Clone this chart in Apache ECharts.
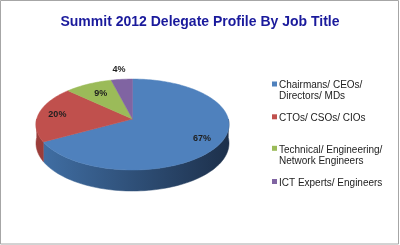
<!DOCTYPE html>
<html><head><meta charset="utf-8">
<script src="https://cdn.jsdelivr.net/npm/echarts@6/dist/echarts.min.js"></script>
<style>html,body{margin:0;padding:0;background:#fff}#c{width:400px;height:245px}</style>
</head><body><div id="c"></div>
<script>
const titleText = 'Summit 2012 Delegate Profile By Job Title';
const categories = ['Chairmans/ CEOs/\nDirectors/ MDs', 'CTOs/ CSOs/ CIOs', 'Technical/ Engineering/\nNetwork Engineers', 'ICT Experts/ Engineers'];
const values = [67, 20, 9, 4];
const colors = ['#4F81BD', '#C0504D', '#9BBB59', '#8064A2'];
const sideColors = [['#4170a6', '#1d304b'], ['#9c3d3a', '#5e2120'], ['#86a34a', '#4a5c28'], ['#6c5390', '#3b2d50']];
const legendTops = [80, 112.8, 144.3, 177.5];

const total = values.reduce((a, b) => a + b, 0);
// perspective ellipse geometry
const CX = 132.5, CY = 119, RX = 95.8, RY = 44.8, K = 0.121, DEPTH = 18.5;
function proj(r, deg) {
  const t = deg * Math.PI / 180;
  const s = Math.sin(t) * r, c = Math.cos(t) * r;
  const w = 1 + K * c;
  return [CX + RX * s / w, CY - RY * c / w, w];
}

function renderItem(params, api) {
  const i = params.dataIndex;
  let before = 0;
  for (let j = 0; j < i; j++) before += values[j];
  const v = api.value(0);
  const a0 = before / total * 360, a1 = (before + v) / total * 360;
  const children = [];
  const s0 = Math.max(a0, 90), s1 = Math.min(a1, 270);
  if (s1 > s0) {
    const top = [], bot = [];
    const n = Math.max(2, Math.ceil((s1 - s0) / 2));
    for (let k = 0; k <= n; k++) {
      const a = s0 + (s1 - s0) * k / n;
      const p = proj(1, a);
      top.push([p[0], p[1]]);
      bot.push([p[0], p[1] + DEPTH / p[2]]);
    }
    const grad = {type: 'linear', x: 36, y: 0, x2: 229, y2: 0, global: true,
      colorStops: [{offset: 0, color: sideColors[i][0]}, {offset: 1, color: sideColors[i][1]}]};
    children.push({type: 'polygon', z2: 1, shape: {points: top.concat(bot.reverse())},
      style: {fill: grad, stroke: grad, lineWidth: 0.5}});
  }
  const pts = [proj(0, 0).slice(0, 2)];
  const n2 = Math.max(2, Math.ceil((a1 - a0) / 1.5));
  for (let k = 0; k <= n2; k++) {
    const p = proj(1, a0 + (a1 - a0) * k / n2);
    pts.push([p[0], p[1]]);
  }
  children.push({type: 'polygon', z2: 5, shape: {points: pts},
    style: {fill: colors[i], stroke: colors[i], lineWidth: 0.5}});
  const pct = v / total * 100;
  const lr = pct < 5 ? 1.3 : (pct < 10 ? 0.7 : 0.8);
  const lp = proj(lr, (a0 + a1) / 2);
  children.push({type: 'text', z2: 10, style: {text: Math.round(pct) + '%', x: lp[0], y: lp[1],
    align: 'center', verticalAlign: 'middle', font: 'bold 9px "Liberation Sans", Arial', fill: '#1f1f1f'}});
  return {type: 'group', children};
}

const chart = echarts.init(document.getElementById('c'), null, {renderer: 'canvas'});
chart.setOption({
  animation: false,
  backgroundColor: '#ffffff',
  title: {text: titleText, left: 'center', top: 14, padding: 0,
    textStyle: {fontFamily: '"Liberation Sans", Arial', fontSize: 14, fontWeight: 'bold', color: '#1a1a9c', lineHeight: 16}},
  legend: categories.map((name, i) => {
    const two = name.indexOf('\n') >= 0;
    return {
      data: [{name, icon: two ? 'path://M0,0h5v5h-5zM0,19' : 'path://M0,0h5v5h-5zM0,8'}],
      left: 272, top: legendTops[i], padding: 0, itemWidth: 5, itemHeight: two ? 19 : 8,
      selectedMode: false, itemStyle: {borderWidth: 0},
      textStyle: {fontFamily: '"Liberation Sans", Arial', fontSize: 10, lineHeight: 11, color: '#222', padding: [0, 0, 0, -3]}
    };
  }),
  graphic: [{type: 'rect', silent: true, shape: {x: 0.5, y: 0.5, width: 398, height: 243.5},
    style: {fill: null, stroke: '#a6a6a6', lineWidth: 1}}],
  series: [
    {type: 'custom', coordinateSystem: 'none', renderItem, data: values, silent: true},
    {type: 'pie', radius: [0, 0], center: [-50, -50], silent: true, label: {show: false}, labelLine: {show: false},
      itemStyle: {borderWidth: 0},
      data: categories.map((n, i) => ({name: n, value: values[i], itemStyle: {color: colors[i]}}))}
  ]
});
</script></body></html>
